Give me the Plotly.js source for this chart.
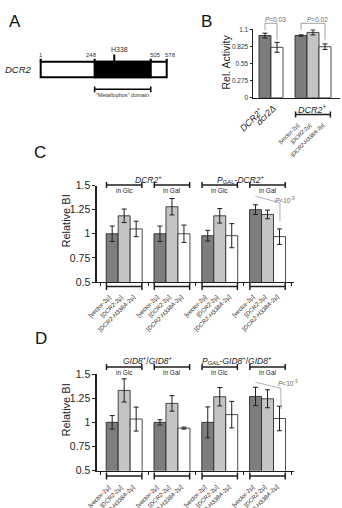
<!DOCTYPE html>
<html><head><meta charset="utf-8">
<script src="https://cdn.plot.ly/plotly-3.0.1.min.js"></script>
<style>html,body{margin:0;padding:0;background:#fff;}#chart{width:342px;height:508px;}</style>
</head><body><div id="chart"></div>
<script>
// ---------------- DATA ----------------
// Panel A: DCR2 protein map (residue numbers)
const proteinStart = 1;
const proteinLength = 578;
const domainStart = 248;
const domainEnd = 505;
const siteResidue = 338;
const siteLabel = 'H338';
const domainLabel = '"Metallophos" domain';

// Panel B: relative phosphatase activity
const bLabels = ['<i>DCR2</i><sup>+</sup>', '<i>dcr2Δ</i>', '[vector-2µ]', '[<i>DCR2</i>-2µ]', '[<i>DCR2-H338A</i>-2µ]'];
const bValues = [1.00, 0.81, 1.00, 1.05, 0.82];
const bErrors = [0.038, 0.08, 0.01, 0.04, 0.045];
const bTicks = [0, 0.275, 0.55, 0.825, 1.1];
const bTickText = ['0', '0.275', '0.55', '0.825', '1.1'];
const bPValues = ['<i>P</i>=0.03', '<i>P</i>=0.02'];

// Panels C & D: shared labels
const plasmidLabels = ['[vector-2µ]', '[<i>DCR2</i>-2µ]', '[<i>DCR2-H338A</i>-2µ]'];
const mediaLabels = ['in Glc', 'in Gal', 'in Glc', 'in Gal'];
const yTicksCD = [0.5, 0.75, 1, 1.25, 1.5];
const yTickTextCD = ['0.5', '0.75', '1', '1.25', '1.5'];

// Panel C
const cStrains = ['<i>DCR2</i><sup>+</sup>', '<i>P</i><sub>GAL</sub>-<i>DCR2</i><sup>+</sup>'];
const cVector = [1.00, 1.00, 0.98, 1.25];
const cVectorErr = [0.08, 0.08, 0.055, 0.05];
const cDCR2 = [1.186, 1.28, 1.186, 1.20];
const cDCR2Err = [0.07, 0.085, 0.075, 0.045];
const cH338A = [1.05, 1.00, 0.98, 0.97];
const cH338AErr = [0.08, 0.09, 0.125, 0.08];
const cPValue = '<i>P</i><10<sup>-3</sup>';

// Panel D
const dStrains = ['<i>GID8</i><sup>+</sup>/<i>GID8</i><sup>+</sup>', '<i>P</i><sub>GAL</sub>-<i>GID8</i><sup>+</sup>/<i>GID8</i><sup>+</sup>'];
const dVector = [1.00, 1.00, 1.00, 1.268];
const dVectorErr = [0.07, 0.027, 0.16, 0.095];
const dDCR2 = [1.33, 1.196, 1.265, 1.244];
const dDCR2Err = [0.12, 0.08, 0.095, 0.093];
const dH338A = [1.034, 0.94, 1.08, 1.04];
const dH338AErr = [0.124, 0.01, 0.137, 0.127];
const dPValue = '<i>P</i><10<sup>-3</sup>';

// ---------------- STYLE / LAYOUT HELPERS ----------------
const W = 342, H = 508;
const X = px => px / W;
const P = py => 1 - py / H;
const DARK = '#7d7d7d', LIGHT = '#c4c4c4', WHITE = '#ffffff', INK = '#1e1e1e';
const FONT = 'Liberation Sans, Arial, Helvetica, sans-serif';
const bColors = [DARK, WHITE, DARK, LIGHT, WHITE];
const bX = bValues.map((_, i) => i < 2 ? i : i + 1);
const gX = mediaLabels.map((_, i) => i);
const BARW = (1 - 0.247) / 3;

const traces = [];
traces.push({
  type: 'bar', x: bX, y: bValues, width: 1, xaxis: 'x', yaxis: 'y',
  marker: {color: bColors, line: {color: INK, width: 0.8}},
  error_y: {type: 'data', array: bErrors, visible: true, color: INK, thickness: 1, width: 2.5},
  hoverinfo: 'skip', showlegend: false
});
function groupTraces(vals, errs, xa, ya) {
  const cols = [DARK, LIGHT, WHITE];
  return vals.map((v, k) => ({
    type: 'bar', x: gX, y: v, xaxis: xa, yaxis: ya,
    marker: {color: cols[k], line: {color: INK, width: 0.8}},
    error_y: {type: 'data', array: errs[k], visible: true, color: INK, thickness: 1, width: 2.5},
    hoverinfo: 'skip', showlegend: false
  }));
}
traces.push(...groupTraces([cVector, cDCR2, cH338A], [cVectorErr, cDCR2Err, cH338AErr], 'x2', 'y2'));
traces.push(...groupTraces([dVector, dDCR2, dH338A], [dVectorErr, dDCR2Err, dH338AErr], 'x3', 'y3'));
// invisible anchor trace for panel A scale
traces.push({type: 'scatter', x: [proteinStart, proteinLength], y: [0, 1], xaxis: 'x4', yaxis: 'y4',
  mode: 'markers', marker: {opacity: 0}, hoverinfo: 'skip', showlegend: false});

const shapes = [];
const annotations = [];
const line = (xref, yref, x0, y0, x1, y1, color, width) =>
  shapes.push({type: 'line', xref, yref, x0, y0, x1, y1, line: {color: color || INK, width: width || 1}});
const ann = (text, x, y, o) => annotations.push(Object.assign({
  text, x, y, xref: 'paper', yref: 'paper', showarrow: false,
  font: {size: 8, family: FONT, color: INK}, xanchor: 'center', yanchor: 'middle'
}, o || {}));

// panel letters
ann('A', X(15), P(21), {font: {size: 17, family: FONT, color: '#111'}});
ann('B', X(206.7), P(21), {font: {size: 17, family: FONT, color: '#111'}});
ann('C', X(40), P(152.5), {font: {size: 17, family: FONT, color: '#111'}});
ann('D', X(41), P(338.3), {font: {size: 17, family: FONT, color: '#111'}});

// ---- Panel A ----
shapes.push({type: 'rect', xref: 'x4', yref: 'paper', x0: proteinStart, x1: proteinLength, y0: P(77.3), y1: P(61.7),
  line: {color: '#000', width: 2}, fillcolor: '#fff'});
shapes.push({type: 'rect', xref: 'x4', yref: 'paper', x0: domainStart, x1: domainEnd, y0: P(77.3), y1: P(61.7),
  line: {color: '#000', width: 2}, fillcolor: '#000'});
[proteinStart, domainStart, domainEnd, proteinLength].forEach(r => line('x4', 'paper', r, P(58.7), r, P(61.7), '#000', 2));
line('x4', 'paper', siteResidue, P(54.5), siteResidue, P(61.7), '#000', 2);
line('x4', 'paper', domainStart, P(89.3), domainEnd, P(89.3), '#000', 1.5);
line('x4', 'paper', domainStart, P(86.5), domainStart, P(92.3), '#000', 1.5);
line('x4', 'paper', domainEnd, P(86.5), domainEnd, P(92.3), '#000', 1.5);
const numFont = {size: 6, family: FONT, color: '#333'};
ann(String(proteinStart), proteinStart, P(55), {xref: 'x4', font: numFont});
ann(String(domainStart), domainStart, P(55), {xref: 'x4', font: numFont, xshift: -3});
ann(String(domainEnd), domainEnd, P(55), {xref: 'x4', font: numFont, xshift: 5});
ann(String(proteinLength), proteinLength, P(55), {xref: 'x4', font: numFont, xshift: 4});
ann(siteLabel, siteResidue, P(49.5), {xref: 'x4', font: {size: 7, family: FONT, color: '#333'}, xshift: 5});
ann('<i>DCR2</i>', X(33.5), P(70), {xanchor: 'right', font: {size: 9.5, family: FONT, color: '#222'}});
ann(domainLabel, (domainStart + domainEnd) / 2, P(94.8), {xref: 'x4', font: {size: 5.5, family: FONT, color: '#333'}});

// ---- Panel B ----
ann('Rel. Activity', X(225.5), P(62), {textangle: -90, font: {size: 10.5, family: FONT, color: INK}});
ann(bLabels[0], bX[0], P(102), {xref: 'x', xanchor: 'right', yanchor: 'top', textangle: -45, xshift: 4, font: {size: 9, family: FONT, color: INK}});
ann(bLabels[1], bX[1], P(100), {xref: 'x', xanchor: 'right', yanchor: 'top', textangle: -45, xshift: 4, font: {size: 9, family: FONT, color: INK}});
ann(bLabels[0], bX[3], P(108.5), {xref: 'x', font: {size: 9, family: FONT, color: INK}});
line('x', 'paper', bX[2] - 0.45, P(114.5), bX[4] + 0.45, P(114.5), INK, 1.5);
line('x', 'paper', bX[2] - 0.45, P(111.5), bX[2] - 0.45, P(117.5), INK, 1.5);
line('x', 'paper', bX[4] + 0.45, P(111.5), bX[4] + 0.45, P(117.5), INK, 1.5);
for (let k = 2; k < 5; k++) {
  ann(bLabels[k], bX[k], P(119), {xref: 'x', xanchor: 'right', yanchor: 'top', textangle: -45, xshift: 3, font: {size: 5.5, family: FONT, color: INK}});
}
const PGRAY = '#8a8a8a';
[[0, 1], [2, 4]].forEach((pair, j) => {
  const a = bX[pair[0]], b = bX[pair[1]];
  line('x', 'paper', a, P(30), a, P(23.3), PGRAY, 0.8);
  line('x', 'paper', a, P(23.3), b, P(23.3), PGRAY, 0.8);
  line('x', 'paper', b, P(23.3), b, P(39.5), PGRAY, 0.8);
  ann(bPValues[j], (a + b) / 2, P(19.5), {xref: 'x', xshift: 5, font: {size: 6.5, family: FONT, color: '#6a6a6a'}});
});

// ---- Panels C & D ----
function decorate(xa, ya, cfg) {
  ann('Relative BI', X(65.5), P(cfg.titleY), {textangle: -90, font: {size: 11, family: FONT, color: INK}});
  cfg.strains.forEach((s, j) => ann(s, 2 * j + 0.5, P(cfg.strainY), {xref: xa, xshift: cfg.strainShift[j], font: {size: 8.5, family: FONT, color: INK}}));
  gX.forEach(i => {
    line(xa, 'paper', i - 0.37, P(cfg.topY), i + 0.37, P(cfg.topY), INK, 1.5);
    line(xa, 'paper', i - 0.37, P(cfg.topY - 3), i - 0.37, P(cfg.topY + 3), INK, 1.5);
    line(xa, 'paper', i + 0.37, P(cfg.topY - 3), i + 0.37, P(cfg.topY + 3), INK, 1.5);
    ann(mediaLabels[i], i, P(cfg.topY + 5.8), {xref: xa, font: {size: 6.5, family: FONT, color: INK}});
    line(xa, 'paper', i - 0.37, P(cfg.botY), i + 0.37, P(cfg.botY), INK, 1.5);
    line(xa, 'paper', i - 0.37, P(cfg.botY - 3.5), i - 0.37, P(cfg.botY + 3.5), INK, 1.5);
    line(xa, 'paper', i + 0.37, P(cfg.botY - 3.5), i + 0.37, P(cfg.botY + 3.5), INK, 1.5);
    plasmidLabels.forEach((t, k) => ann(t, i + (k - 1) * BARW, P(cfg.labY), {
      xref: xa, xanchor: 'right', yanchor: 'top', textangle: -45, xshift: 3, font: {size: 6, family: FONT, color: INK}}));
  });
  const pb = cfg.pBracket;
  shapes.push({type: 'path', xref: xa, yref: ya, path: `M${pb[0][0]},${pb[0][1]} L${pb[1][0]},${pb[1][1]} L${pb[2][0]},${pb[2][1]}`,
    line: {color: '#9a9a9a', width: 0.8}});
  ann(cfg.pText, cfg.pTextPos[0], cfg.pTextPos[1], {xref: xa, yref: ya, font: {size: 6.5, family: FONT, color: '#666'}});
}
decorate('x2', 'y2', {titleY: 221, strains: cStrains, strainY: 179.3, strainShift: [0, -3], topY: 185, botY: 286.5, labY: 290.5,
  pBracket: [[3 - BARW, 1.39], [3 + 0.26, 1.32], [3 + 0.26, 1.13]], pText: cPValue, pTextPos: [3.36, 1.345]});
decorate('x3', 'y3', {titleY: 410, strains: dStrains, strainY: 360, strainShift: [0, -7], topY: 367, botY: 476, labY: 481,
  pBracket: [[3 - BARW, 1.415], [3 + 0.28, 1.352], [3 + 0.28, 1.138]], pText: dPValue, pTextPos: [3.43, 1.405]});

const xCD = {range: [-0.575, 3.554], showticklabels: false, ticks: 'outside', ticklen: 3, tickcolor: INK,
  tickvals: [-0.5, 0.5, 1.5, 2.5, 3.5], showline: true, linecolor: INK, linewidth: 1.3, showgrid: false, zeroline: false,
  domain: [X(96.7), X(294)], fixedrange: true};
const yCD = {range: [0.5, 1.5], tickvals: yTicksCD, ticktext: yTickTextCD, ticks: 'outside', ticklen: 3, tickcolor: INK,
  tickfont: {size: 10.5, family: FONT, color: INK}, showline: true, linecolor: INK, linewidth: 1.3, showgrid: false, zeroline: false, fixedrange: true};

const layout = {
  width: W, height: H, margin: {l: 0, r: 0, t: 0, b: 0},
  paper_bgcolor: '#fff', plot_bgcolor: 'rgba(0,0,0,0)', showlegend: false,
  font: {family: FONT, color: INK},
  barmode: 'group', bargap: 0.247, bargroupgap: 0,
  xaxis: {domain: [X(252.5), X(340)], range: [-1.04, 6.25], showticklabels: false, ticks: '', showline: true,
    linecolor: INK, linewidth: 1, showgrid: false, zeroline: false, anchor: 'y', fixedrange: true},
  yaxis: {domain: [P(97.7), P(29.3)], range: [0, 1.1], tickvals: bTicks, ticktext: bTickText, ticks: 'outside', ticklen: 2,
    tickcolor: INK, tickfont: {size: 6.5, family: FONT, color: '#333'}, showline: true, linecolor: INK, linewidth: 1,
    showgrid: false, zeroline: false, anchor: 'x', fixedrange: true},
  xaxis2: Object.assign({}, xCD, {anchor: 'y2'}),
  yaxis2: Object.assign({}, yCD, {domain: [P(282), P(185.5)], anchor: 'x2'}),
  xaxis3: Object.assign({}, xCD, {anchor: 'y3'}),
  yaxis3: Object.assign({}, yCD, {domain: [P(470.7), P(374)], anchor: 'x3'}),
  xaxis4: {domain: [X(36.1), X(171.5)], range: [-20, 600], visible: false, anchor: 'y4', fixedrange: true},
  yaxis4: {domain: [P(80), P(60)], range: [0, 1], visible: false, anchor: 'x4', fixedrange: true},
  shapes, annotations
};
Plotly.newPlot('chart', traces, layout, {staticPlot: true, displayModeBar: false});
</script></body></html>
